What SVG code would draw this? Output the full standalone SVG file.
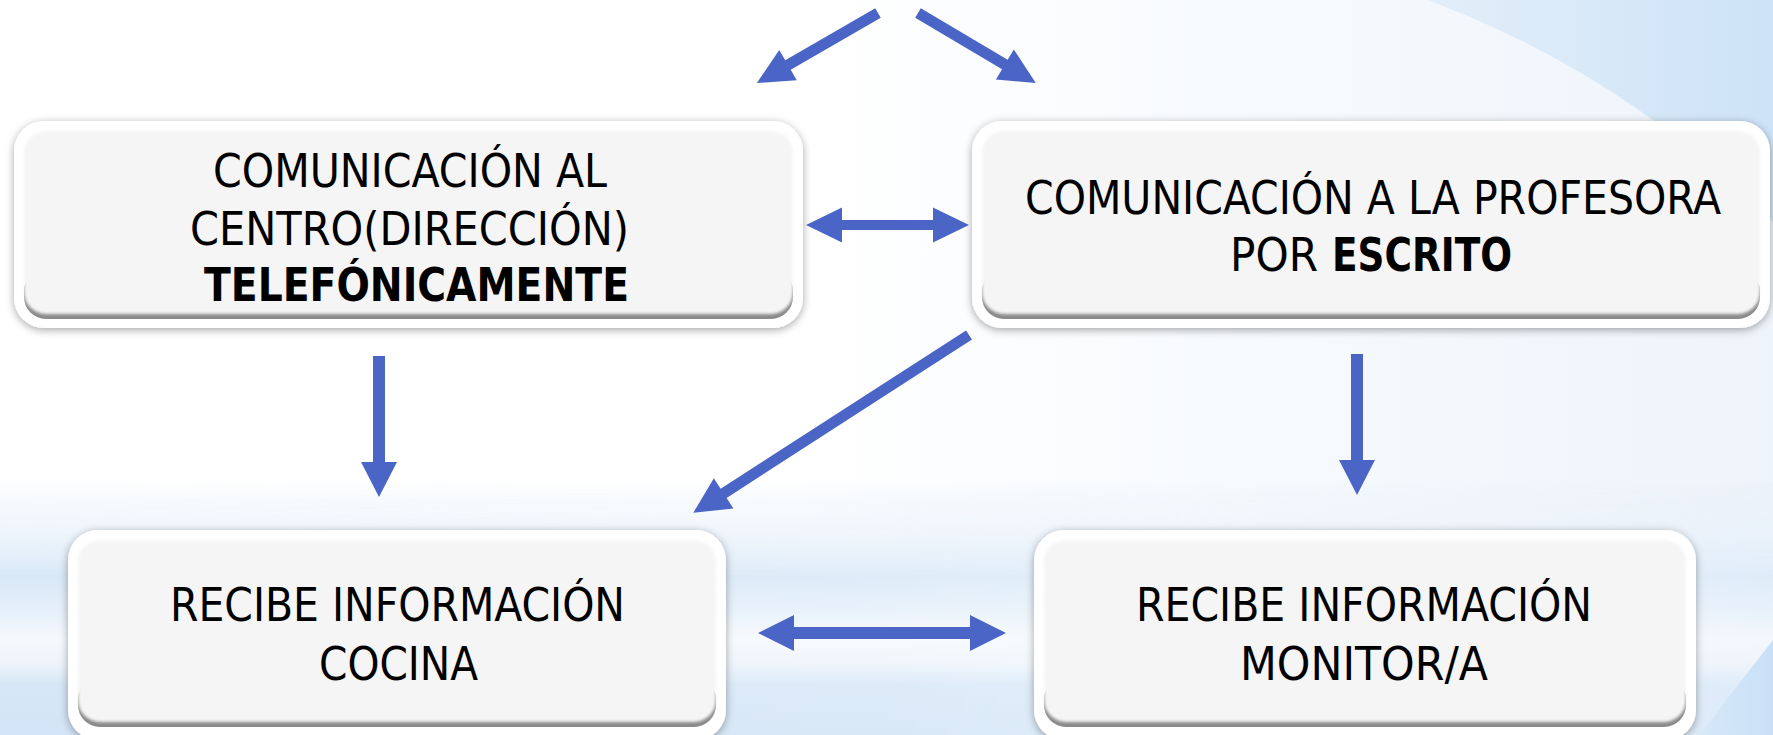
<svg xmlns="http://www.w3.org/2000/svg" width="1773" height="735" viewBox="0 0 1773 735">
<style>
.outer{fill:#ffffff;filter:url(#drop);}
.dark{fill:#8a8a8a;}
.light{fill:#f5f5f5;filter:url(#soft);}
.t{font-family:"DejaVu Sans Condensed","Liberation Sans Narrow","Liberation Sans",sans-serif;font-size:47px;fill:#000;}
.c{text-anchor:middle;}
.b{font-weight:bold;}
.arrow{fill:#4a65c6;}
</style>
<defs>
<filter id="drop" x="-5%" y="-10%" width="110%" height="125%">
<feDropShadow dx="0" dy="2" stdDeviation="4" flood-color="#000" flood-opacity="0.35"/>
</filter>
<filter id="soft" x="-2%" y="-5%" width="104%" height="110%">
<feGaussianBlur stdDeviation="1.8"/>
</filter>
<linearGradient id="bgH" x1="0" y1="0" x2="1" y2="0">
<stop offset="0" stop-color="#ffffff"/>
<stop offset="0.45" stop-color="#ffffff"/>
<stop offset="1" stop-color="#eef4fb"/>
</linearGradient>
<linearGradient id="band" x1="0" y1="480" x2="0" y2="735" gradientUnits="userSpaceOnUse">
<stop offset="0" stop-color="#dbe9f7" stop-opacity="0"/>
<stop offset="0.2" stop-color="#e3eef9" stop-opacity="0.6"/>
<stop offset="0.38" stop-color="#d8e8f7" stop-opacity="1"/>
<stop offset="0.52" stop-color="#e6f0fa" stop-opacity="1"/>
<stop offset="0.62" stop-color="#f6f9fd" stop-opacity="1"/>
<stop offset="0.72" stop-color="#eef4fb" stop-opacity="1"/>
<stop offset="0.8" stop-color="#d7e7f7" stop-opacity="1"/>
<stop offset="1" stop-color="#d2e4f6" stop-opacity="1"/>
</linearGradient>
<linearGradient id="fadeX" x1="0" y1="0" x2="1" y2="0">
<stop offset="0" stop-color="#fff" stop-opacity="1"/>
<stop offset="0.5" stop-color="#fff" stop-opacity="0.85"/>
<stop offset="0.8" stop-color="#fff" stop-opacity="0.5"/>
<stop offset="1" stop-color="#fff" stop-opacity="0.7"/>
</linearGradient>
<mask id="bandMask">
<rect x="0" y="480" width="1773" height="255" fill="url(#fadeX)"/>
</mask>
<linearGradient id="corner" x1="1400" y1="0" x2="1773" y2="0" gradientUnits="userSpaceOnUse">
<stop offset="0" stop-color="#e4eff9"/>
<stop offset="1" stop-color="#cde3f7"/>
</linearGradient>
<linearGradient id="corner2" x1="1700" y1="0" x2="1773" y2="0" gradientUnits="userSpaceOnUse">
<stop offset="0" stop-color="#d6e8f8"/>
<stop offset="1" stop-color="#c8e0f6"/>
</linearGradient>
</defs>

<g id="background">
<rect x="0" y="0" width="1773" height="735" fill="#ffffff"/>
<rect x="0" y="0" width="1773" height="735" fill="url(#bgH)"/>
<rect x="0" y="480" width="1773" height="255" fill="url(#band)" mask="url(#bandMask)"/>
<path d="M1427,0 A955,955 0 0,1 1773,222 L1773,0 Z" fill="url(#corner)"/>
<path d="M1773,640 Q1735,688 1700,735 L1773,735 Z" fill="url(#corner2)"/>
</g>

<g id="connectors">
<path class="arrow" transform="translate(878,13) rotate(149.95)" d="M0,-5.5 L104,-5.5 L104,-17.5 L140,0 L104,17.5 L104,5.5 L0,5.5 Z"/>
<path class="arrow" transform="translate(918,13) rotate(30.67)" d="M0,-5.5 L101,-5.5 L101,-17.5 L137,0 L101,17.5 L101,5.5 L0,5.5 Z"/>
<path class="arrow" transform="translate(969,335) rotate(147.18)" d="M0,-5.5 L292,-5.5 L292,-18 L328,0 L292,18 L292,5.5 L0,5.5 Z"/>
<path class="arrow" transform="translate(379,356) rotate(90)" d="M0,-6 L106,-6 L106,-18 L141,0 L106,18 L106,6 L0,6 Z"/>
<path class="arrow" transform="translate(1357,354) rotate(90)" d="M0,-6 L106,-6 L106,-18 L141,0 L106,18 L106,6 L0,6 Z"/>
<path class="arrow" d="M806,225 L842,207.5 L842,220 L933,220 L933,207.5 L969,225 L933,242.5 L933,230 L842,230 L842,242.5 Z"/>
<path class="arrow" d="M758,633 L794,615 L794,627 L970,627 L970,615 L1006,633 L970,651 L970,639 L794,639 L794,651 Z"/>
</g>

<g id="node-centro">
<rect class="outer" x="14" y="121" width="789" height="207" rx="30"/>
<rect class="dark" x="24" y="269" width="769" height="50" rx="22"/>
<rect class="light" x="24" y="131" width="769" height="183" rx="22"/>
<text class="t c" x="410" y="187" textLength="394" lengthAdjust="spacingAndGlyphs">COMUNICACIÓN AL</text>
<text class="t c" x="409.5" y="245" textLength="439" lengthAdjust="spacingAndGlyphs">CENTRO(DIRECCIÓN)</text>
<text class="t c b" x="416.5" y="301" textLength="425" lengthAdjust="spacingAndGlyphs">TELEFÓNICAMENTE</text>
</g>

<g id="node-profesora">
<rect class="outer" x="972" y="121" width="798" height="207" rx="30"/>
<rect class="dark" x="982" y="269" width="778" height="50" rx="22"/>
<rect class="light" x="982" y="131" width="778" height="183" rx="22"/>
<text class="t c" x="1373" y="214" textLength="696" lengthAdjust="spacingAndGlyphs">COMUNICACIÓN A LA PROFESORA</text>
<text class="t" x="1230" y="271" textLength="88" lengthAdjust="spacingAndGlyphs">POR</text>
<text class="t b" x="1332" y="271" textLength="180" lengthAdjust="spacingAndGlyphs">ESCRITO</text>
</g>

<g id="node-cocina">
<rect class="outer" x="68" y="530" width="658" height="210" rx="30"/>
<rect class="dark" x="78" y="677" width="638" height="50" rx="22"/>
<rect class="light" x="78" y="540" width="638" height="182" rx="22"/>
<text class="t c" x="397.5" y="621" textLength="455" lengthAdjust="spacingAndGlyphs">RECIBE INFORMACIÓN</text>
<text class="t c" x="398.5" y="680" textLength="159" lengthAdjust="spacingAndGlyphs">COCINA</text>
</g>

<g id="node-monitor">
<rect class="outer" x="1034" y="530" width="662" height="210" rx="30"/>
<rect class="dark" x="1044" y="677" width="642" height="50" rx="22"/>
<rect class="light" x="1044" y="540" width="642" height="182" rx="22"/>
<text class="t c" x="1364" y="621" textLength="456" lengthAdjust="spacingAndGlyphs">RECIBE INFORMACIÓN</text>
<text class="t c" x="1364" y="680" textLength="248" lengthAdjust="spacingAndGlyphs">MONITOR/A</text>
</g>
</svg>
